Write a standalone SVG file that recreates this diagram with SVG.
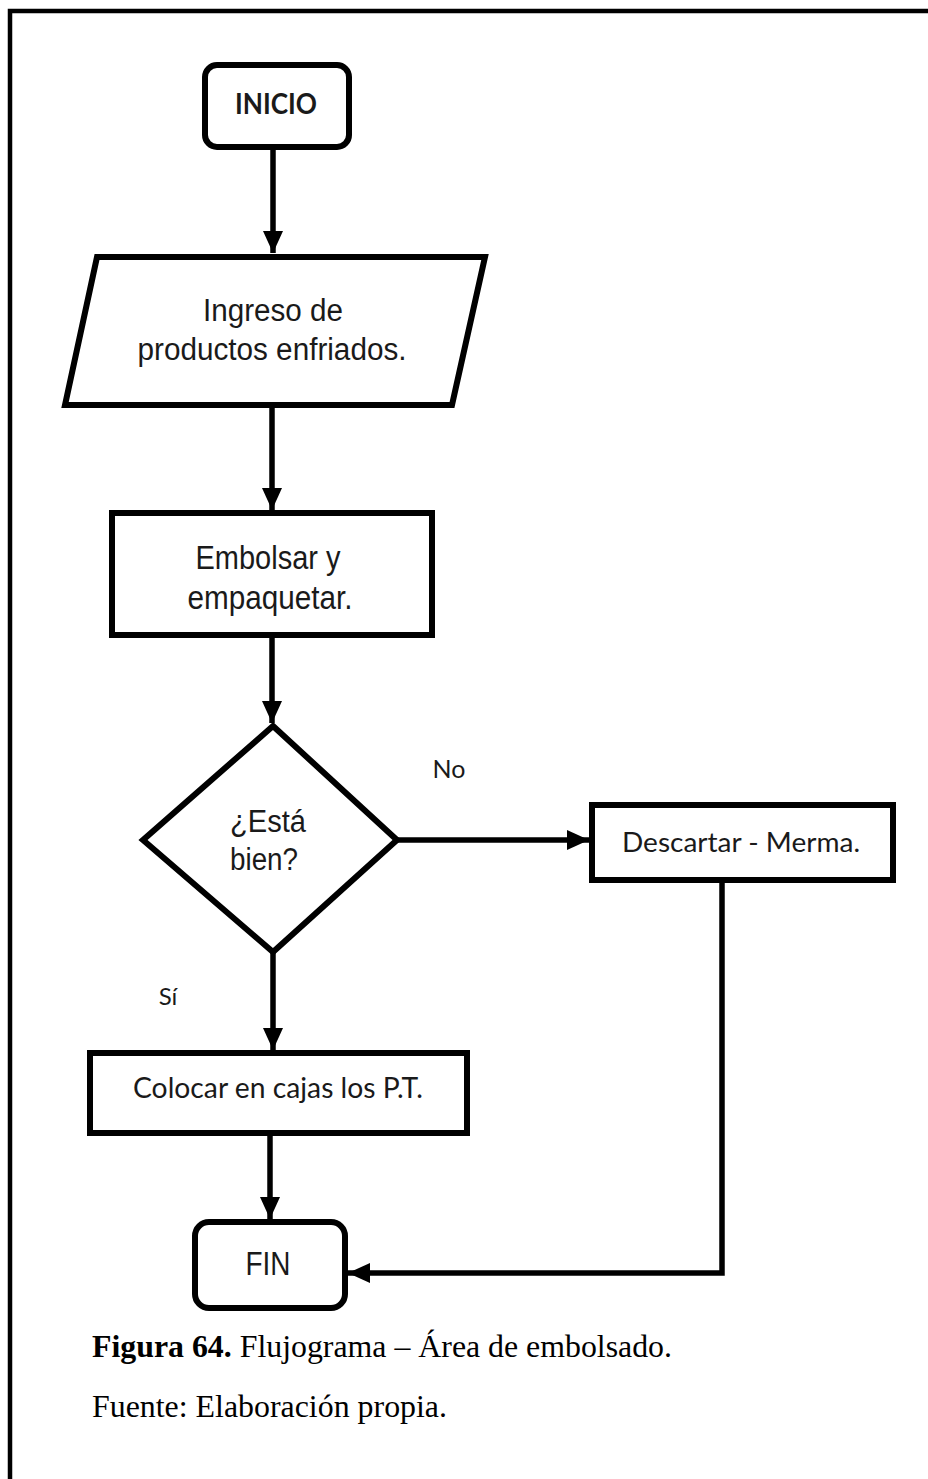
<svg xmlns="http://www.w3.org/2000/svg" width="928" height="1479" viewBox="0 0 928 1479">
  <style>
    .shape { fill: #ffffff; stroke: #000000; stroke-width: 6; stroke-linejoin: miter; }
    .edge { fill: none; stroke: #000000; stroke-width: 5.5; }
    .arial { font-family: "Liberation Sans", Arial, sans-serif; fill: #1a1a1a; }
    .calibri { font-family: Lato, "Open Sans", "Liberation Sans", sans-serif; fill: #1a1a1a; }
    .caption { font-family: "Liberation Serif", "Times New Roman", serif; font-size: 31px; fill: #000000; }
  </style>
  <defs>
    <marker id="arrow" markerUnits="userSpaceOnUse" markerWidth="23" markerHeight="20" refX="22" refY="10" orient="auto">
      <path d="M0,0 L22,10 L0,20 Z" fill="#000000"/>
    </marker>
  </defs>

  <rect x="0" y="0" width="928" height="1479" fill="#ffffff"/>
  <!-- page frame -->
  <rect x="10" y="11" width="940" height="1500" fill="none" stroke="#000000" stroke-width="4.5"/>

  <g id="connectors">
    <path class="edge" d="M273,148 V253" marker-end="url(#arrow)"/>
    <path class="edge" d="M272,406 V510" marker-end="url(#arrow)"/>
    <path class="edge" d="M272,636 V723" marker-end="url(#arrow)"/>
    <path class="edge" d="M398,840 H589" marker-end="url(#arrow)"/>
    <path class="edge" d="M273,953 V1050" marker-end="url(#arrow)"/>
    <path class="edge" d="M270,1134 V1219" marker-end="url(#arrow)"/>
    <path class="edge" d="M722,881 V1273 H348" marker-end="url(#arrow)"/>
  </g>

  <g id="inicio">
    <rect class="shape" x="205" y="65" width="144" height="82" rx="12"/>
    <text class="calibri" x="276" y="114" font-size="29" font-weight="bold" text-anchor="middle" textLength="82" lengthAdjust="spacingAndGlyphs">INICIO</text>
  </g>

  <g id="ingreso">
    <polygon class="shape" points="97,257 485,257 452,405 65,405"/>
    <text class="arial" x="273" y="321" font-size="31" text-anchor="middle" textLength="140" lengthAdjust="spacingAndGlyphs">Ingreso de</text>
    <text class="arial" x="272" y="360" font-size="31" text-anchor="middle" textLength="269" lengthAdjust="spacingAndGlyphs">productos enfriados.</text>
  </g>

  <g id="embolsar">
    <rect class="shape" x="112" y="513" width="320" height="122"/>
    <text class="arial" x="268" y="569" font-size="34" text-anchor="middle" textLength="145" lengthAdjust="spacingAndGlyphs">Embolsar y</text>
    <text class="arial" x="270" y="609" font-size="34" text-anchor="middle" textLength="165" lengthAdjust="spacingAndGlyphs">empaquetar.</text>
  </g>

  <g id="decision">
    <polygon class="shape" points="273,726 397,840 273,952 143,840"/>
    <text class="arial" x="268" y="832" font-size="31" text-anchor="middle" textLength="76" lengthAdjust="spacingAndGlyphs">¿Está</text>
    <text class="arial" x="264" y="870" font-size="31" text-anchor="middle" textLength="68" lengthAdjust="spacingAndGlyphs">bien?</text>
  </g>

  <g id="label-no">
    <text class="calibri" x="449" y="778" font-size="25" text-anchor="middle">No</text>
  </g>

  <g id="descartar">
    <rect class="shape" x="592" y="805" width="301" height="75"/>
    <text class="calibri" x="741" y="852" font-size="27" text-anchor="middle" textLength="238" lengthAdjust="spacingAndGlyphs">Descartar - Merma.</text>
  </g>

  <g id="label-si">
    <text class="calibri" x="168" y="1005" font-size="24" text-anchor="middle">Sí</text>
  </g>

  <g id="colocar">
    <rect class="shape" x="90" y="1053" width="377" height="80"/>
    <text class="calibri" x="278" y="1098" font-size="28" text-anchor="middle" textLength="290" lengthAdjust="spacingAndGlyphs">Colocar en cajas los P.T.</text>
  </g>

  <g id="fin">
    <rect class="shape" x="195" y="1222" width="150" height="86" rx="14"/>
    <text class="arial" x="268" y="1275" font-size="34" text-anchor="middle" textLength="45" lengthAdjust="spacingAndGlyphs">FIN</text>
  </g>

  <g id="caption">
    <text class="caption" x="92" y="1357" textLength="580" lengthAdjust="spacingAndGlyphs"><tspan font-weight="bold">Figura 64.</tspan> Flujograma – Área de embolsado.</text>
    <text class="caption" x="92" y="1417" textLength="355" lengthAdjust="spacingAndGlyphs">Fuente: Elaboración propia.</text>
  </g>
</svg>
